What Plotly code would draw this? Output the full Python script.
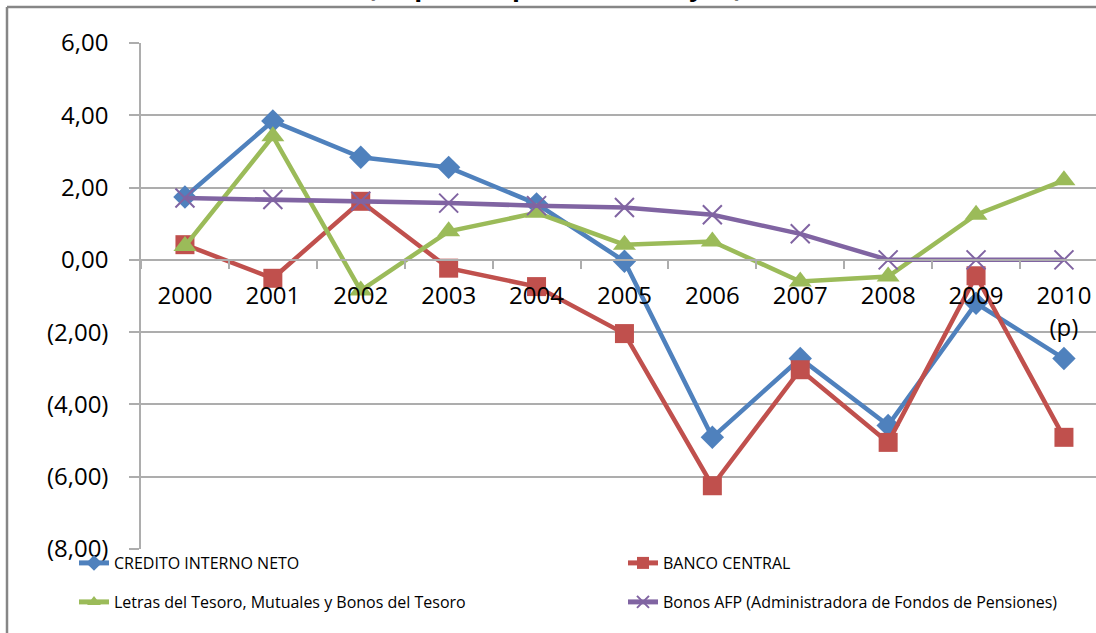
import plotly.graph_objects as go

# ---- data ----
tick_labels = ["2000", "2001", "2002", "2003", "2004", "2005", "2006",
               "2007", "2008", "2009", "2010<br>(p)"]
credito_interno_neto = [1.74, 3.84, 2.84, 2.56, 1.55, -0.04, -4.91, -2.73, -4.58, -1.20, -2.73]
banco_central = [0.42, -0.51, 1.62, -0.23, -0.74, -2.04, -6.25, -3.04, -5.05, -0.44, -4.91]
letras_tesoro = [0.38, 3.42, -0.85, 0.79, 1.30, 0.42, 0.51, -0.60, -0.46, 1.25, 2.20]
bonos_afp = [1.71, 1.67, 1.62, 1.57, 1.50, 1.45, 1.25, 0.72, 0.0, 0.0, 0.0]

y_tickvals = [6, 4, 2, 0, -2, -4, -6, -8]
y_ticktext = ["6,00", "4,00", "2,00", "0,00", "(2,00)", "(4,00)", "(6,00)", "(8,00)"]

names = ["CREDITO INTERNO NETO", "BANCO CENTRAL",
         "Letras del Tesoro, Mutuales y Bonos del Tesoro",
         "Bonos AFP (Administradora de Fondos de Pensiones)"]

FONT = "Open Sans"
fig = go.Figure()

fig.add_trace(go.Scatter(
    x=tick_labels, y=credito_interno_neto, name=names[0], mode="lines+markers",
    line=dict(color="#4F81BD", width=4.5),
    marker=dict(symbol="diamond", size=18, color="#4F81BD"),
    legend="legend", legendwidth=504))
fig.add_trace(go.Scatter(
    x=tick_labels, y=banco_central, name=names[1], mode="lines+markers",
    line=dict(color="#C0504D", width=4.5),
    marker=dict(symbol="square", size=19, color="#C0504D"),
    legend="legend"))
fig.add_trace(go.Scatter(
    x=tick_labels, y=letras_tesoro, name=names[2], mode="lines+markers",
    line=dict(color="#9BBB59", width=4.5),
    marker=dict(symbol="triangle-up", size=20, color="#9BBB59"),
    legend="legend2", legendwidth=504))
fig.add_trace(go.Scatter(
    x=tick_labels, y=bonos_afp, name=names[3], mode="lines+markers",
    line=dict(color="#8064A2", width=4.5),
    marker=dict(symbol="x-thin", size=19, color="#8064A2",
                line=dict(color="#8064A2", width=2)),
    legend="legend2"))

L, T, B = 141, 43, 84
W, H = 1096, 633
pw = W - L
ph = H - T - B

def px_x(p):
    return (p - L) / pw

def px_y(p):
    return (H - B - p) / ph

grid_col = "#ADADAD"
fig.update_layout(
    width=W, height=H,
    margin=dict(l=L, r=0, t=T, b=B),
    paper_bgcolor="white", plot_bgcolor="white",
    font=dict(family=FONT, color="black"),
    xaxis=dict(
        type="category", range=[-0.5, -0.5 + pw / 87.9],
        anchor="free", position=8 / 14, side="bottom",
        showgrid=False, zeroline=False,
        showline=True, linecolor=grid_col, linewidth=1.5,
        ticks="outside", tickson="boundaries", ticklen=8,
        tickcolor=grid_col, tickwidth=1.5,
        tickfont=dict(size=24, family=FONT, color="black"),
        ticklabelstandoff=15,
    ),
    yaxis=dict(
        range=[-8, 6], tickmode="array", tickvals=y_tickvals, ticktext=y_ticktext,
        showgrid=True, gridcolor=grid_col, gridwidth=1.5,
        zeroline=False, showline=True, linecolor=grid_col, linewidth=1.5,
        ticks="outside", ticklen=10, tickcolor=grid_col, tickwidth=1.5,
        tickfont=dict(size=24, family=FONT, color="black"),
        ticklabelstandoff=16,
    ),
    legend=dict(orientation="h", x=px_x(74), xanchor="left",
                y=px_y(563), yanchor="middle", itemsizing="constant",
                font=dict(size=16, family=FONT, color="black"),
                bgcolor="rgba(0,0,0,0)"),
    legend2=dict(orientation="h", x=px_x(74), xanchor="left",
                 y=px_y(602), yanchor="middle", itemsizing="constant",
                 font=dict(size=16, family=FONT, color="black"),
                 bgcolor="rgba(0,0,0,0)"),
    showlegend=True,
)

# outer frame (left and top edges visible)
fig.add_shape(type="line", xref="paper", yref="paper",
              x0=px_x(7), x1=px_x(7), y0=px_y(7), y1=px_y(H + 5),
              line=dict(color="#868686", width=2.5))
fig.add_shape(type="line", xref="paper", yref="paper",
              x0=px_x(7), x1=px_x(W + 10), y0=px_y(7), y1=px_y(7),
              line=dict(color="#868686", width=2.5))

# title, mostly cut off at the top of the picture (as in the reference)
fig.add_annotation(text="<b>(En puntos porcentuales y %)</b>",
                   xref="paper", yref="paper", x=px_x(555), y=px_y(6),
                   xanchor="center", yanchor="bottom", showarrow=False,
                   font=dict(size=26, family=FONT, color="black"))

fig.write_html("out.html")
